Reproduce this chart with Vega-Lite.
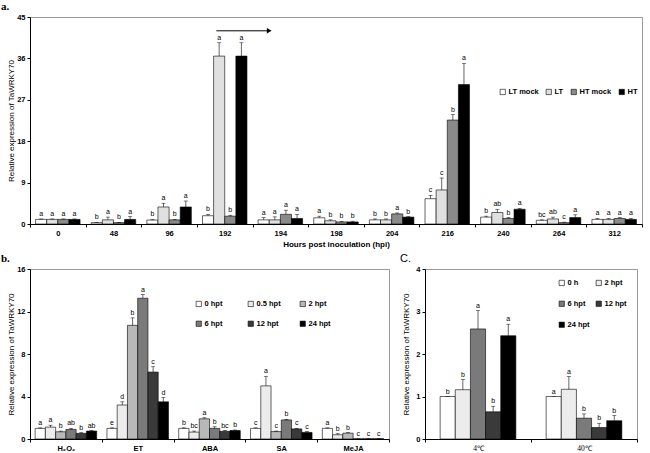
{
  "$schema": "https://vega.github.io/schema/vega-lite/v6.json",
  "padding": {"left": 0, "top": 0, "right": 2, "bottom": 0},
  "background": "white",
  "config": {
    "font": "Liberation Sans",
    "view": {"stroke": "#999", "strokeWidth": 1},
    "axis": {"domainColor": "#000", "tickColor": "#000", "labelFont": "Liberation Sans", "labelFontWeight": "bold", "labelFontSize": 7.5, "labelColor": "#000", "titleFont": "Liberation Sans", "titleFontSize": 8, "titleFontWeight": "normal", "titleColor": "#000", "grid": false, "tickSize": 3, "labelPadding": 2},
    "legend": {"title": null, "symbolType": "square", "symbolSize": 28, "symbolStrokeColor": "#000", "symbolStrokeWidth": 0.6, "labelFontSize": 7.5, "labelFontWeight": "bold", "labelColor": "#000", "labelOffset": 2},
    "title": {"anchor": "start", "frame": "bounds", "fontSize": 11, "font": "Liberation Serif", "fontWeight": "bold", "offset": 1, "color": "#000", "dx": -6}
  },
  "datasets": {
    "a": [
      {"hpi": "0", "g": "LT mock", "v": 1.0, "hi": 1.1, "lab": "a"},
      {"hpi": "0", "g": "LT", "v": 1.0, "hi": 1.1, "lab": "a"},
      {"hpi": "0", "g": "HT mock", "v": 1.0, "hi": 1.1, "lab": "a"},
      {"hpi": "0", "g": "HT", "v": 1.0, "hi": 1.1, "lab": "a"},
      {"hpi": "48", "g": "LT mock", "v": 0.3, "hi": 0.35, "lab": "b"},
      {"hpi": "48", "g": "LT", "v": 0.9, "hi": 1.5, "lab": "a"},
      {"hpi": "48", "g": "HT mock", "v": 0.3, "hi": 0.35, "lab": "b"},
      {"hpi": "48", "g": "HT", "v": 1.0, "hi": 1.6, "lab": "a"},
      {"hpi": "96", "g": "LT mock", "v": 0.85, "hi": 1.0, "lab": "b"},
      {"hpi": "96", "g": "LT", "v": 3.7, "hi": 4.5, "lab": "a"},
      {"hpi": "96", "g": "HT mock", "v": 0.9, "hi": 1.0, "lab": "b"},
      {"hpi": "96", "g": "HT", "v": 3.7, "hi": 5.0, "lab": "a"},
      {"hpi": "192", "g": "LT mock", "v": 1.8, "hi": 2.1, "lab": "b"},
      {"hpi": "192", "g": "LT", "v": 36.5, "hi": 39.4, "lab": "a"},
      {"hpi": "192", "g": "HT mock", "v": 1.7, "hi": 1.9, "lab": "b"},
      {"hpi": "192", "g": "HT", "v": 36.5, "hi": 39.4, "lab": "a"},
      {"hpi": "194", "g": "LT mock", "v": 0.9, "hi": 1.4, "lab": "a"},
      {"hpi": "194", "g": "LT", "v": 0.9, "hi": 1.55, "lab": "a"},
      {"hpi": "194", "g": "HT mock", "v": 2.1, "hi": 3.0, "lab": "a"},
      {"hpi": "194", "g": "HT", "v": 1.2, "hi": 2.1, "lab": "a"},
      {"hpi": "198", "g": "LT mock", "v": 1.35, "hi": 1.7, "lab": "a"},
      {"hpi": "198", "g": "LT", "v": 0.7, "hi": 0.9, "lab": "b"},
      {"hpi": "198", "g": "HT mock", "v": 0.45, "hi": 0.55, "lab": "b"},
      {"hpi": "198", "g": "HT", "v": 0.45, "hi": 0.6, "lab": "b"},
      {"hpi": "204", "g": "LT mock", "v": 0.9, "hi": 1.1, "lab": "b"},
      {"hpi": "204", "g": "LT", "v": 0.9, "hi": 1.1, "lab": "b"},
      {"hpi": "204", "g": "HT mock", "v": 2.2, "hi": 2.4, "lab": "a"},
      {"hpi": "204", "g": "HT", "v": 1.5, "hi": 1.6, "lab": "b"},
      {"hpi": "216", "g": "LT mock", "v": 5.5, "hi": 6.2, "lab": "c"},
      {"hpi": "216", "g": "LT", "v": 7.4, "hi": 10.0, "lab": "c"},
      {"hpi": "216", "g": "HT mock", "v": 22.6, "hi": 23.8, "lab": "b"},
      {"hpi": "216", "g": "HT", "v": 30.3, "hi": 34.9, "lab": "a"},
      {"hpi": "240", "g": "LT mock", "v": 1.5, "hi": 1.7, "lab": "b"},
      {"hpi": "240", "g": "LT", "v": 2.5, "hi": 3.2, "lab": "ab"},
      {"hpi": "240", "g": "HT mock", "v": 1.2, "hi": 1.4, "lab": "b"},
      {"hpi": "240", "g": "HT", "v": 3.2, "hi": 3.4, "lab": "a"},
      {"hpi": "264", "g": "LT mock", "v": 0.8, "hi": 0.9, "lab": "bc"},
      {"hpi": "264", "g": "LT", "v": 1.1, "hi": 1.5, "lab": "ab"},
      {"hpi": "264", "g": "HT mock", "v": 0.3, "hi": 0.4, "lab": "c"},
      {"hpi": "264", "g": "HT", "v": 1.4, "hi": 2.0, "lab": "a"},
      {"hpi": "312", "g": "LT mock", "v": 1.0, "hi": 1.2, "lab": "a"},
      {"hpi": "312", "g": "LT", "v": 1.0, "hi": 1.2, "lab": "a"},
      {"hpi": "312", "g": "HT mock", "v": 1.2, "hi": 1.4, "lab": "a"},
      {"hpi": "312", "g": "HT", "v": 1.0, "hi": 1.2, "lab": "a"}
    ],
    "arrow": [{"x1": 3.35, "x2": 4.3, "y": 42}],
    "b": [
      {"h": "H₂O₂", "t": "0 hpt", "v": 1.0, "hi": 1.05, "lab": "a"},
      {"h": "H₂O₂", "t": "0.5 hpt", "v": 1.12, "hi": 1.3, "lab": "a"},
      {"h": "H₂O₂", "t": "2 hpt", "v": 0.68, "hi": 0.75, "lab": "b"},
      {"h": "H₂O₂", "t": "6 hpt", "v": 0.9, "hi": 1.0, "lab": "ab"},
      {"h": "H₂O₂", "t": "12 hpt", "v": 0.53, "hi": 0.6, "lab": "b"},
      {"h": "H₂O₂", "t": "24 hpt", "v": 0.75, "hi": 0.8, "lab": "ab"},
      {"h": "ET", "t": "0 hpt", "v": 1.0, "hi": 1.05, "lab": "e"},
      {"h": "ET", "t": "0.5 hpt", "v": 3.2, "hi": 3.5, "lab": "d"},
      {"h": "ET", "t": "2 hpt", "v": 10.7, "hi": 11.4, "lab": "b"},
      {"h": "ET", "t": "6 hpt", "v": 13.25, "hi": 13.6, "lab": "a"},
      {"h": "ET", "t": "12 hpt", "v": 6.3, "hi": 6.8, "lab": "c"},
      {"h": "ET", "t": "24 hpt", "v": 3.5, "hi": 3.9, "lab": "d"},
      {"h": "ABA", "t": "0 hpt", "v": 1.0, "hi": 1.05, "lab": "b"},
      {"h": "ABA", "t": "0.5 hpt", "v": 0.65, "hi": 0.75, "lab": "bc"},
      {"h": "ABA", "t": "2 hpt", "v": 1.9, "hi": 2.0, "lab": "a"},
      {"h": "ABA", "t": "6 hpt", "v": 1.0, "hi": 1.15, "lab": "b"},
      {"h": "ABA", "t": "12 hpt", "v": 0.72, "hi": 0.8, "lab": "bc"},
      {"h": "ABA", "t": "24 hpt", "v": 0.8, "hi": 0.85, "lab": "b"},
      {"h": "SA", "t": "0 hpt", "v": 1.0, "hi": 1.05, "lab": "c"},
      {"h": "SA", "t": "0.5 hpt", "v": 5.0, "hi": 5.9, "lab": "a"},
      {"h": "SA", "t": "2 hpt", "v": 0.7, "hi": 0.75, "lab": "c"},
      {"h": "SA", "t": "6 hpt", "v": 1.8, "hi": 1.85, "lab": "b"},
      {"h": "SA", "t": "12 hpt", "v": 0.95, "hi": 1.0, "lab": "c"},
      {"h": "SA", "t": "24 hpt", "v": 0.62, "hi": 0.7, "lab": "c"},
      {"h": "MeJA", "t": "0 hpt", "v": 1.0, "hi": 1.05, "lab": "a"},
      {"h": "MeJA", "t": "0.5 hpt", "v": 0.4, "hi": 0.5, "lab": "b"},
      {"h": "MeJA", "t": "2 hpt", "v": 0.55, "hi": 0.6, "lab": "b"},
      {"h": "MeJA", "t": "6 hpt", "v": 0.02, "hi": 0.02, "lab": "c"},
      {"h": "MeJA", "t": "12 hpt", "v": 0.02, "hi": 0.02, "lab": "c"},
      {"h": "MeJA", "t": "24 hpt", "v": 0.02, "hi": 0.02, "lab": "c"}
    ],
    "c": [
      {"temp": "4℃", "tc": "0 h", "v": 1.0, "hi": 1.0, "lab": "b"},
      {"temp": "4℃", "tc": "2 hpt", "v": 1.16, "hi": 1.4, "lab": "b"},
      {"temp": "4℃", "tc": "6 hpt", "v": 2.59, "hi": 3.02, "lab": "a"},
      {"temp": "4℃", "tc": "12 hpt", "v": 0.64, "hi": 0.77, "lab": "b"},
      {"temp": "4℃", "tc": "24 hpt", "v": 2.43, "hi": 2.7, "lab": "a"},
      {"temp": "40℃", "tc": "0 h", "v": 1.0, "hi": 1.0, "lab": "a"},
      {"temp": "40℃", "tc": "2 hpt", "v": 1.17, "hi": 1.47, "lab": "a"},
      {"temp": "40℃", "tc": "6 hpt", "v": 0.49, "hi": 0.59, "lab": "b"},
      {"temp": "40℃", "tc": "12 hpt", "v": 0.27, "hi": 0.37, "lab": "b"},
      {"temp": "40℃", "tc": "24 hpt", "v": 0.43, "hi": 0.55, "lab": "b"}
    ]
  },
  "resolve": {"scale": {"fill": "independent", "xOffset": "independent", "x": "independent", "y": "independent"}},
  "spacing": 3,
  "vconcat": [
    {
      "title": {"text": "a."},
      "width": 612,
      "height": 207,
      "resolve": {"scale": {"x": "independent"}},
      "layer": [
        {
          "data": {"name": "a"},
          "encoding": {
            "x": {"field": "hpi", "type": "nominal", "sort": null, "scale": {"paddingInner": 0, "paddingOuter": 0}, "axis": {"title": "Hours post inoculation (hpi)", "titleFontWeight": "bold", "labelAngle": 0, "tickBand": "extent", "labelPadding": 2, "titlePadding": 4}},
            "xOffset": {"field": "g", "type": "nominal", "scale": {"domain": ["LT mock", "LT", "HT mock", "HT"], "paddingOuter": 0.5, "paddingInner": 0}}
          },
          "layer": [
            {
              "mark": {"type": "bar", "stroke": "#000", "strokeWidth": 0.6},
              "encoding": {
                "y": {"field": "v", "type": "quantitative", "scale": {"domain": [0, 45]}, "axis": {"values": [0, 9, 18, 27, 36, 45], "title": "Relative expression of TaWRKY70", "titleX": -15}},
                "fill": {"field": "g", "type": "nominal", "scale": {"domain": ["LT mock", "LT", "HT mock", "HT"], "range": ["#ffffff", "#e0e0e0", "#8a8a8a", "#000000"]}, "legend": {"orient": "none", "legendX": 469, "legendY": 71, "direction": "horizontal", "columnPadding": 5}}
              }
            },
            {
              "mark": {"type": "rule", "color": "#000", "strokeWidth": 0.6},
              "encoding": {"y": {"field": "v", "type": "quantitative", "title": "Relative expression of TaWRKY70"}, "y2": {"field": "hi"}}
            },
            {
              "mark": {"type": "tick", "color": "#000", "thickness": 0.7, "size": 4},
              "encoding": {"y": {"field": "hi", "type": "quantitative", "title": "Relative expression of TaWRKY70"}}
            },
            {
              "mark": {"type": "text", "fontSize": 7, "baseline": "bottom", "dy": -2, "fill": "#000"},
              "encoding": {"y": {"field": "hi", "type": "quantitative", "title": "Relative expression of TaWRKY70"}, "text": {"field": "lab"}}
            }
          ]
        },
        {
          "data": {"name": "arrow"},
          "layer": [
            {
              "mark": {"type": "rule", "color": "#000", "strokeWidth": 1},
              "encoding": {
                "x": {"field": "x1", "type": "quantitative", "scale": {"domain": [0, 11]}, "axis": null},
                "x2": {"field": "x2"},
                "y": {"field": "y", "type": "quantitative", "title": "Relative expression of TaWRKY70"}
              }
            },
            {
              "mark": {"type": "point", "shape": "triangle-right", "filled": true, "color": "#000", "size": 30, "opacity": 1},
              "encoding": {
                "x": {"field": "x2", "type": "quantitative", "scale": {"domain": [0, 11]}, "axis": null},
                "y": {"field": "y", "type": "quantitative", "title": "Relative expression of TaWRKY70"}
              }
            }
          ]
        }
      ]
    },
    {
      "spacing": 9,
      "resolve": {"scale": {"fill": "independent", "xOffset": "independent", "x": "independent", "y": "independent"}},
      "hconcat": [
        {
          "title": {"text": "b."},
          "width": 359,
          "height": 170,
          "data": {"name": "b"},
          "encoding": {
            "x": {"field": "h", "type": "nominal", "sort": null, "scale": {"paddingInner": 0, "paddingOuter": 0}, "axis": {"title": null, "labelAngle": 0, "tickBand": "extent", "labelPadding": 2}},
            "xOffset": {"field": "t", "type": "nominal", "scale": {"domain": ["0 hpt", "0.5 hpt", "2 hpt", "6 hpt", "12 hpt", "24 hpt"], "paddingOuter": 0.5, "paddingInner": 0}}
          },
          "layer": [
            {
              "mark": {"type": "bar", "stroke": "#000", "strokeWidth": 0.6},
              "encoding": {
                "y": {"field": "v", "type": "quantitative", "scale": {"domain": [0, 16]}, "axis": {"values": [0, 2, 4, 6, 8, 10, 12, 14, 16], "title": "Relative expression of TaWRKY70", "titleX": -15}},
                "fill": {"field": "t", "type": "nominal", "scale": {"domain": ["0 hpt", "0.5 hpt", "2 hpt", "6 hpt", "12 hpt", "24 hpt"], "range": ["#ffffff", "#ececec", "#b8b8b8", "#7a7a7a", "#3a3a3a", "#000000"]}, "legend": {"orient": "none", "legendX": 165, "legendY": 31, "direction": "horizontal", "columns": 3, "gridAlign": "all", "columnPadding": 17, "rowPadding": 11}}
              }
            },
            {
              "mark": {"type": "rule", "color": "#000", "strokeWidth": 0.6},
              "encoding": {"y": {"field": "v", "type": "quantitative", "title": "Relative expression of TaWRKY70"}, "y2": {"field": "hi"}}
            },
            {
              "mark": {"type": "tick", "color": "#000", "thickness": 0.7, "size": 4},
              "encoding": {"y": {"field": "hi", "type": "quantitative", "title": "Relative expression of TaWRKY70"}}
            },
            {
              "mark": {"type": "text", "fontSize": 7, "baseline": "bottom", "dy": -2, "fill": "#000"},
              "encoding": {"y": {"field": "hi", "type": "quantitative", "title": "Relative expression of TaWRKY70"}, "text": {"field": "lab"}}
            }
          ]
        },
        {
          "title": {"text": "C.", "font": "Liberation Sans", "fontWeight": "normal", "fontSize": 11, "dx": -2},
          "width": 212,
          "height": 170,
          "data": {"name": "c"},
          "encoding": {
            "x": {"field": "temp", "type": "nominal", "sort": null, "scale": {"paddingInner": 0, "paddingOuter": 0}, "axis": {"title": null, "labelAngle": 0, "tickBand": "extent", "labelPadding": 2, "labelFontWeight": "normal", "labelFont": "Liberation Serif"}},
            "xOffset": {"field": "tc", "type": "nominal", "scale": {"domain": ["0 h", "2 hpt", "6 hpt", "12 hpt", "24 hpt"], "paddingOuter": 2.5, "paddingInner": 0}}
          },
          "layer": [
            {
              "mark": {"type": "bar", "stroke": "#000", "strokeWidth": 0.6},
              "encoding": {
                "y": {"field": "v", "type": "quantitative", "scale": {"domain": [0, 4]}, "axis": {"values": [0, 1, 2, 3, 4], "title": "Relative expression of TaWRKY70", "titleX": -15}},
                "fill": {"field": "tc", "type": "nominal", "scale": {"domain": ["0 h", "2 hpt", "6 hpt", "12 hpt", "24 hpt"], "range": ["#ffffff", "#ececec", "#7a7a7a", "#3a3a3a", "#000000"]}, "legend": {"orient": "none", "legendX": 133, "legendY": 10, "direction": "horizontal", "columns": 2, "gridAlign": "all", "columnPadding": 4, "rowPadding": 12}}
              }
            },
            {
              "mark": {"type": "rule", "color": "#000", "strokeWidth": 0.6},
              "encoding": {"y": {"field": "v", "type": "quantitative", "title": "Relative expression of TaWRKY70"}, "y2": {"field": "hi"}}
            },
            {
              "mark": {"type": "tick", "color": "#000", "thickness": 0.7, "size": 4},
              "encoding": {"y": {"field": "hi", "type": "quantitative", "title": "Relative expression of TaWRKY70"}}
            },
            {
              "mark": {"type": "text", "fontSize": 7, "baseline": "bottom", "dy": -2, "fill": "#000"},
              "encoding": {"y": {"field": "hi", "type": "quantitative", "title": "Relative expression of TaWRKY70"}, "text": {"field": "lab"}}
            }
          ]
        }
      ]
    }
  ]
}
